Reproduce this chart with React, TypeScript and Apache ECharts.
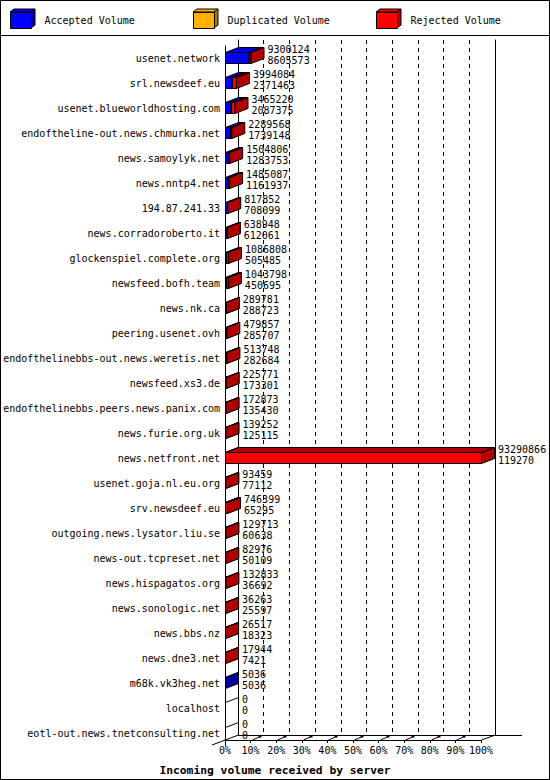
import { useEffect, useRef } from 'react'
import * as echarts from 'echarts'

// servers, top to bottom
const servers = [
  'usenet.network',
  'srl.newsdeef.eu',
  'usenet.blueworldhosting.com',
  'endoftheline-out.news.chmurka.net',
  'news.samoylyk.net',
  'news.nntp4.net',
  '194.87.241.33',
  'news.corradoroberto.it',
  'glockenspiel.complete.org',
  'newsfeed.bofh.team',
  'news.nk.ca',
  'peering.usenet.ovh',
  'endofthelinebbs-out.news.weretis.net',
  'newsfeed.xs3.de',
  'endofthelinebbs.peers.news.panix.com',
  'news.furie.org.uk',
  'news.netfront.net',
  'usenet.goja.nl.eu.org',
  'srv.newsdeef.eu',
  'outgoing.news.lysator.liu.se',
  'news-out.tcpreset.net',
  'news.hispagatos.org',
  'news.sonologic.net',
  'news.bbs.nz',
  'news.dne3.net',
  'm68k.vk3heg.net',
  'localhost',
  'eotl-out.news.tnetconsulting.net',
]

// upper number next to each bar: total volume offered
const offeredVolume = [
  9300124, 3994084, 3465220, 2289568, 1504806, 1485087, 817852, 638948,
  1086808, 1043798, 289781, 479857, 513748, 225771, 172873, 139252,
  93290866, 93459, 746399, 129713, 82976, 132833, 36263, 26517, 17944,
  5036, 0, 0,
]

// lower number next to each bar: accepted volume
const acceptedVolume = [
  8605573, 2371463, 2087375, 1739148, 1283753, 1161937, 708099, 612061,
  505485, 450695, 288723, 285707, 282684, 173301, 135430, 125115,
  119270, 77112, 65295, 60638, 50109, 36692, 25597, 18323, 7421,
  5036, 0, 0,
]

const duplicatedVolume = [
  0, 0, 0, 0, 0, 0, 0, 0, 0, 0, 0, 0, 0, 0, 0, 0, 0, 0, 0, 0, 0, 0, 0, 0, 0,
  0, 0, 0,
]

const percentTicks = [0, 10, 20, 30, 40, 50, 60, 70, 80, 90, 100]

const MONO = '"DejaVu Sans Mono", "Liberation Mono", monospace'
const DX = 13
const DY = 5

const maxVolume = Math.max(...offeredVolume)
const pct = (v: number) => (v / maxVolume) * 100

// [category, start %, end %]
const acceptedData = servers.map((_, i) => [i, 0, pct(acceptedVolume[i])])
const duplicatedData = servers.map((_, i) => [
  i,
  pct(acceptedVolume[i]),
  pct(acceptedVolume[i] + duplicatedVolume[i]),
])
const rejectedData = servers.map((_, i) => [
  i,
  pct(acceptedVolume[i] + duplicatedVolume[i]),
  pct(offeredVolume[i]),
])
const labelData = servers.map((_, i) => [i, pct(offeredVolume[i]), offeredVolume[i], acceptedVolume[i]])

const colors = {
  accepted: { front: '#0000ff', top: '#0000e0', side: '#0000a0' },
  duplicated: { front: '#ffb000', top: '#e8a000', side: '#b07800' },
  rejected: { front: '#ff0000', top: '#b00000', side: '#b00000' },
}

// eslint-disable-next-line @typescript-eslint/no-explicit-any
type Api = any

const segmentRenderer = (c: { front: string; top: string; side: string }) =>
  (_params: unknown, api: Api) => {
    const cat = api.value(0)
    const start = api.value(1)
    const end = api.value(2)
    if (!(end - start > 0)) return { type: 'group', children: [] }
    const a = api.coord([start, cat])
    const b = api.coord([end, cat])
    const x0 = Math.round(a[0]) + 0.5
    const x1 = b[0] + 0.5
    const yT = Math.floor(a[1]) - 5.5
    const yB = Math.floor(a[1]) + 5.5
    const line = { stroke: '#000', lineWidth: 1 }
    return {
      type: 'group',
      children: [
        {
          type: 'polygon',
          shape: { points: [[x0, yT], [x1, yT], [x1 + DX, yT - DY], [x0 + DX, yT - DY]] },
          style: { fill: c.top, ...line },
        },
        {
          type: 'rect',
          shape: { x: x0, y: yT, width: x1 - x0, height: yB - yT },
          style: { fill: c.front, ...line },
        },
        {
          type: 'polygon',
          shape: { points: [[x1, yT], [x1 + DX, yT - DY], [x1 + DX, yB - DY], [x1, yB]] },
          style: { fill: c.side, ...line },
        },
      ],
    }
  }

const labelRenderer = (_params: unknown, api: Api) => {
  const cat = api.value(0)
  const end = api.value(1)
  const p = api.coord([end, cat])
  const origin = api.coord([0, cat])
  const cy = Math.floor(p[1])
  const font = `10px ${MONO}`
  const children: unknown[] = [
    {
      type: 'text',
      style: { text: String(api.value(2)), x: p[0] + 17, y: cy - 9, fill: '#000', font, textAlign: 'left', textVerticalAlign: 'middle' },
    },
    {
      type: 'text',
      style: { text: String(api.value(3)), x: p[0] + 17, y: cy + 2, fill: '#000', font, textAlign: 'left', textVerticalAlign: 'middle' },
    },
  ]
  if (!(end > 0)) {
    const x0 = Math.round(origin[0]) + 0.5
    const yT = cy - 5.5
    children.push({
      type: 'line',
      shape: { x1: x0, y1: yT, x2: x0 + DX, y2: yT - DY },
      style: { stroke: '#000', lineWidth: 1 },
    })
  }
  return { type: 'group', children }
}

// small 3D tick marks on the floor
const floorTickRenderer = (_params: unknown, api: Api) => {
  const v = api.value(0)
  const p = api.coord([v, 0])
  const x = Math.round(p[0]) + 0.5
  if (v <= 0 || v >= 100) return { type: 'group', children: [] }
  return {
    type: 'group',
    children: [
      { type: 'line', shape: { x1: x + 1, y1: 740, x2: x + 8, y2: 737 }, style: { stroke: '#000', lineWidth: 1 } },
      { type: 'rect', shape: { x: x + 7, y: 735.5, width: 3, height: 2 }, style: { fill: '#000' } },
    ],
  }
}

const legendCube = (x: number, c: { front: string; side: string }) => [
  {
    type: 'polygon',
    shape: { points: [[x, 12], [x + 21, 12], [x + 25, 9], [x + 4, 9]] },
    style: { fill: c.front, stroke: '#000', lineWidth: 1 },
  },
  {
    type: 'polygon',
    shape: { points: [[x + 21, 12], [x + 25, 9], [x + 25, 25], [x + 21, 28]] },
    style: { fill: c.side, stroke: '#000', lineWidth: 1 },
  },
]

const legendBase = {
  top: 12,
  padding: 0,
  icon: 'rect',
  itemWidth: 21,
  itemHeight: 16,
  itemStyle: { borderColor: '#000', borderWidth: 1 },
  textStyle: { fontFamily: MONO, fontSize: 10, color: '#000', padding: [0, 0, 0, 8] },
  selectedMode: false,
}

const App = () => {
  const chartRef = useRef<HTMLDivElement>(null)

  useEffect(() => {
    document.body.style.margin = '0'
    if (!chartRef.current) return
    const chart = echarts.init(chartRef.current, null, { renderer: 'svg' })

    const option = {
      animation: false,
      backgroundColor: '#fff',
      title: {
        text: 'Incoming volume received by server',
        left: 'center',
        top: 760,
        textStyle: { fontFamily: MONO, fontSize: 11.3, fontWeight: 'bold', color: '#000' },
      },
      legend: [
        { ...legendBase, left: 10, data: ['Accepted Volume'] },
        { ...legendBase, left: 193, data: ['Duplicated Volume'] },
        { ...legendBase, left: 376, data: ['Rejected Volume'] },
      ],
      grid: [
        // back wall
        { left: 238, right: 55, top: 40, bottom: 45 },
        // front plane
        { left: 225, right: 69, top: 46, bottom: 34 },
      ],
      xAxis: [
        {
          gridIndex: 0,
          type: 'value',
          min: 0,
          max: 100,
          interval: 10,
          axisLine: { show: true, lineStyle: { color: '#000', width: 1 } },
          axisTick: { show: false },
          axisLabel: { show: false },
          splitLine: { show: true, lineStyle: { color: '#000', width: 1, type: [4, 4] } },
        },
        {
          gridIndex: 1,
          type: 'value',
          min: 0,
          max: 100,
          interval: 10,
          offset: -6,
          axisLine: { show: true, lineStyle: { color: '#000', width: 1 } },
          axisTick: { show: true, length: 3, lineStyle: { color: '#000' } },
          axisLabel: { formatter: '{value}%', fontFamily: MONO, fontSize: 10, color: '#000', margin: 5 },
          splitLine: { show: false },
        },
      ],
      yAxis: [
        {
          gridIndex: 0,
          type: 'value',
          min: 0,
          max: 1,
          axisLine: { show: true, lineStyle: { color: '#000', width: 1 } },
          axisTick: { show: false },
          axisLabel: { show: false },
          splitLine: { show: false },
        },
        {
          gridIndex: 1,
          type: 'category',
          inverse: true,
          data: servers,
          axisLine: { show: true, lineStyle: { color: '#000', width: 1 } },
          axisTick: { show: false },
          axisLabel: { fontFamily: MONO, fontSize: 10, color: '#000', margin: 5 },
          splitLine: { show: false },
        },
        {
          gridIndex: 0,
          type: 'value',
          position: 'right',
          min: 0,
          max: 1,
          axisLine: { show: true, lineStyle: { color: '#000', width: 1 } },
          axisTick: { show: false },
          axisLabel: { show: false },
          splitLine: { show: false },
        },
      ],
      series: [
        {
          name: 'Accepted Volume',
          type: 'custom',
          xAxisIndex: 1,
          yAxisIndex: 1,
          itemStyle: { color: colors.accepted.front },
          renderItem: segmentRenderer(colors.accepted),
          data: acceptedData,
          z: 3,
        },
        {
          name: 'Duplicated Volume',
          type: 'custom',
          xAxisIndex: 1,
          yAxisIndex: 1,
          itemStyle: { color: colors.duplicated.front },
          renderItem: segmentRenderer(colors.duplicated),
          data: duplicatedData,
          z: 4,
        },
        {
          name: 'Rejected Volume',
          type: 'custom',
          xAxisIndex: 1,
          yAxisIndex: 1,
          itemStyle: { color: colors.rejected.front },
          renderItem: segmentRenderer(colors.rejected),
          data: rejectedData,
          z: 5,
        },
        {
          name: 'labels',
          type: 'custom',
          xAxisIndex: 1,
          yAxisIndex: 1,
          silent: true,
          renderItem: labelRenderer,
          data: labelData,
          z: 6,
        },
        {
          name: 'floorTicks',
          type: 'custom',
          xAxisIndex: 1,
          yAxisIndex: 1,
          silent: true,
          renderItem: floorTickRenderer,
          data: percentTicks.map((t) => [t]),
          z: 2,
        },
      ],
      graphic: [
        {
          type: 'rect',
          shape: { x: 0.5, y: 0.5, width: 549, height: 779 },
          style: { fill: 'none', stroke: '#000', lineWidth: 1 },
          silent: true,
        },
        {
          type: 'line',
          shape: { x1: 0, y1: 35.5, x2: 550, y2: 35.5 },
          style: { stroke: '#000', lineWidth: 1 },
          silent: true,
        },
        {
          type: 'line',
          shape: { x1: 212, y1: 745, x2: 238.5, y2: 735 },
          style: { stroke: '#000', lineWidth: 1 },
          silent: true,
        },
        {
          type: 'line',
          shape: { x1: 481.5, y1: 740, x2: 495.5, y2: 735 },
          style: { stroke: '#000', lineWidth: 1 },
          silent: true,
        },
        {
          type: 'line',
          shape: { x1: 495, y1: 735.5, x2: 522, y2: 735.5 },
          style: { stroke: '#000', lineWidth: 1 },
          silent: true,
        },
        ...legendCube(10, colors.accepted),
        ...legendCube(193, colors.duplicated),
        ...legendCube(376, colors.rejected),
      ],
    }

    chart.setOption(option as Record<string, unknown>)

    return () => {
      chart.dispose()
    }
  }, [])

  return <div ref={chartRef} style={{ width: '550px', height: '780px' }} />
}

export default App
